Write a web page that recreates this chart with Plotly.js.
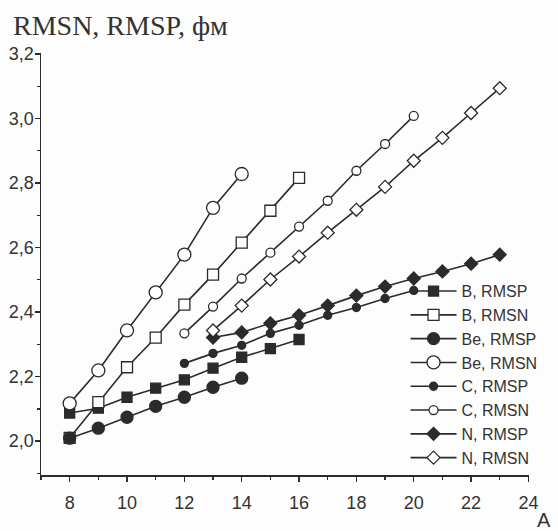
<!DOCTYPE html>
<html>
<head>
<meta charset="utf-8">
<script src="https://cdn.plot.ly/plotly-3.0.1.min.js"></script>
<style>html,body{margin:0;padding:0;background:#fdfdfd;}#chart{width:558px;height:531px;}</style>
</head>
<body>
<div id="chart"></div>
<script>
// Mass number A for each nucleus chain
const bA  = [8, 9, 10, 11, 12, 13, 14, 15, 16];
const beA = [8, 9, 10, 11, 12, 13, 14];
const cA  = [12, 13, 14, 15, 16, 17, 18, 19, 20];
const nA  = [13, 14, 15, 16, 17, 18, 19, 20, 21, 22, 23];

// RMS radii, fm
const bRmsp  = [2.087, 2.102, 2.136, 2.164, 2.190, 2.226, 2.260, 2.287, 2.315];
const bRmsn  = [2.010, 2.121, 2.229, 2.321, 2.423, 2.516, 2.615, 2.714, 2.816];
const beRmsp = [2.009, 2.040, 2.074, 2.108, 2.136, 2.167, 2.195];
const beRmsn = [2.117, 2.219, 2.343, 2.461, 2.578, 2.723, 2.828];
const cRmsp  = [2.241, 2.272, 2.297, 2.334, 2.359, 2.390, 2.414, 2.442, 2.467];
const cRmsn  = [2.334, 2.417, 2.504, 2.584, 2.665, 2.745, 2.838, 2.921, 3.008];
const nRmsp  = [2.321, 2.337, 2.365, 2.390, 2.420, 2.451, 2.479, 2.504, 2.526, 2.550, 2.578];
const nRmsn  = [2.343, 2.420, 2.501, 2.572, 2.646, 2.717, 2.788, 2.869, 2.940, 3.017, 3.094];

const seriesNames = ["B, RMSP", "B, RMSN", "Be, RMSP", "Be, RMSN", "C, RMSP", "C, RMSN", "N, RMSP", "N, RMSN"];
const xAxisTitle = "A";
const yAxisTitle = "RMSN, RMSP, фм";

const ink = "#2b2b2b";
const paper = "#fdfdfd";

function tr(name, x, y, symbol, size, filled) {
  return {
    type: "scatter", mode: "lines+markers", name: name, x: x, y: y,
    line: {color: ink, width: 1.6},
    marker: {symbol: symbol, size: size, color: filled ? ink : "white",
             line: {color: ink, width: 1.3}},
    cliponaxis: false
  };
}

const traces = [
  tr(seriesNames[0], bA, bRmsp, "square", 10, true),
  tr(seriesNames[1], bA, bRmsn, "square", 11, false),
  tr(seriesNames[2], beA, beRmsp, "circle", 12, true),
  tr(seriesNames[3], beA, beRmsn, "circle", 13, false),
  tr(seriesNames[4], cA, cRmsp, "circle", 8, true),
  tr(seriesNames[5], cA, cRmsn, "circle", 9, false),
  tr(seriesNames[6], nA, nRmsp, "diamond", 10, true),
  tr(seriesNames[7], nA, nRmsn, "diamond", 10, false)
];

const tickFont = {family: "Liberation Sans, Arial, sans-serif", size: 18, color: "#333"};

const layout = {
  width: 558, height: 531,
  paper_bgcolor: paper, plot_bgcolor: paper,
  margin: {l: 41, r: 29, t: 53, b: 56},
  separators: ", ",
  showlegend: true,
  legend: {
    x: 0.747, xanchor: "left", y: 0.476, yanchor: "top",
    bgcolor: "rgba(0,0,0,0)", borderwidth: 0,
    itemwidth: 46,
    font: {family: "Liberation Sans, Arial, sans-serif", size: 16, color: "#333"},
    tracegroupgap: 0
  },
  xaxis: {
    range: [7, 24.02], showgrid: false, zeroline: false,
    showline: true, linecolor: ink, linewidth: 1.5,
    ticks: "outside", ticklen: 5, tickwidth: 1.3, tickcolor: ink,
    tick0: 0, dtick: 2, tickfont: tickFont, ticklabelstandoff: 6,
    minor: {ticks: "outside", ticklen: 3, tickcolor: ink, dtick: 1, tick0: 0, showgrid: false}
  },
  yaxis: {
    range: [1.895, 3.203], showgrid: false, zeroline: false,
    showline: true, linecolor: ink, linewidth: 1.5,
    ticks: "outside", ticklen: 5, tickwidth: 1.3, tickcolor: ink,
    tick0: 0, dtick: 0.2, tickformat: ".1f", tickfont: tickFont, ticklabelstandoff: -3,
    minor: {ticks: "outside", ticklen: 3, tickcolor: ink, dtick: 0.1, tick0: 0, showgrid: false}
  },
  annotations: [
    {text: yAxisTitle, xref: "paper", yref: "paper", x: -0.062, y: 1.066,
     xanchor: "left", yanchor: "middle", showarrow: false,
     font: {family: "Liberation Serif, Times New Roman, serif", size: 28, color: "#333"}},
    {text: xAxisTitle, xref: "paper", yref: "paper", x: 1.03, y: -0.107,
     xanchor: "center", yanchor: "middle", showarrow: false,
     font: {family: "Liberation Sans, Arial, sans-serif", size: 20, color: "#333"}}
  ]
};

Plotly.newPlot("chart", traces, layout, {displayModeBar: false, staticPlot: true});
</script>
</body>
</html>
